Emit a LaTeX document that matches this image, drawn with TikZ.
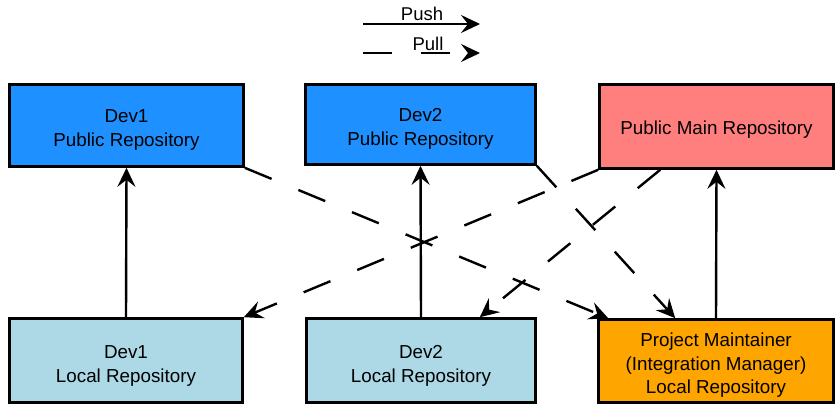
\documentclass[tikz,border=0pt]{standalone}
\usepackage{fontspec}
\setmainfont{Liberation Sans}
\usetikzlibrary{arrows.meta}
\definecolor{devblue}{HTML}{1E90FF}
\definecolor{mainred}{HTML}{FF7F7F}
\definecolor{locblue}{HTML}{ADD8E6}
\definecolor{pmorange}{HTML}{FFA500}
\begin{document}
\begin{tikzpicture}[x=1pt,y=-1pt,
  repo/.style={draw=black, line width=2.6pt, inner sep=0pt},
  txt/.style={align=center, inner sep=0pt, font=\fontsize{18.8}{24}\selectfont},
  tip/.style={-{Stealth[length=19pt,width=18pt,inset=7pt]}},
  push/.style={tip, line width=2.4pt},
  pull/.style={tip, line width=2.4pt, dash pattern=on 29pt off 29pt},
  lbl/.style={font=\fontsize{18.5}{24}\selectfont, inner sep=0pt}]
\useasboundingbox (0,0) rectangle (838,406);
% boxes
\node[repo, fill=devblue, minimum width=234pt, minimum height=82pt] (d1p) at (126.5,125.5) {};
\node[repo, fill=devblue, minimum width=230pt, minimum height=80pt] (d2p) at (420.5,124.5) {};
\node[repo, fill=mainred, minimum width=234pt, minimum height=84pt] (mp) at (716.5,126.5) {};
\node[repo, fill=locblue, minimum width=233pt, minimum height=84pt] (d1l) at (126,360.5) {};
\node[repo, fill=locblue, minimum width=229pt, minimum height=84pt] (d2l) at (421,360.5) {};
\node[repo, fill=pmorange, minimum width=235pt, minimum height=83pt] (pm) at (716,361) {};
% texts
\node[txt] (d1pt) at ([yshift=-4.5pt]d1p.center) {Dev1\\Public Repository};
\node[txt] (d2pt) at ([yshift=-4.5pt]d2p.center) {Dev2\\Public Repository};
\node[txt] (mpt) at ([yshift=-3.5pt]mp.center) {Public Main Repository};
\node[txt] (d1lt) at ([yshift=-5pt]d1l.center) {Dev1\\Local Repository};
\node[txt] (d2lt) at ([yshift=-5pt]d2l.center) {Dev2\\Local Repository};
\node[txt, font=\fontsize{18.8}{23.5}\selectfont] (pmt) at ([yshift=-4.5pt]pm.center) {Project Maintainer\\(Integration Manager)\\Local Repository};
% push arrows
\draw[push] (d1l.north) -- (d1p.south);
\draw[push] (d2l.north) -- (d2p.south);
\draw[push] (pm.north) -- (mp.south);
% pull arrows
\draw[pull] (d1p.south east) -- ([xshift=11pt]pm.north west);
\draw[pull] (d2p.south east) -- ([xshift=78pt]pm.north west);
\draw[pull] (mp.south west) -- (d1l.north east);
\draw[pull] ([xshift=62pt]mp.south west) -- ([xshift=-57pt]d2l.north east);
% legend
\coordinate (pushA) at (363,24);
\coordinate (pushB) at (480,24);
\coordinate (pullA) at (363,53);
\coordinate (pullB) at (480,53);
\draw[push] (pushA) -- (pushB);
\draw[pull] (pullA) -- (pullB);
\node[lbl] (pushL) at (422,14) {Push};
\node[lbl] (pullL) at (428,44) {Pull};
\end{tikzpicture}
\end{document}
